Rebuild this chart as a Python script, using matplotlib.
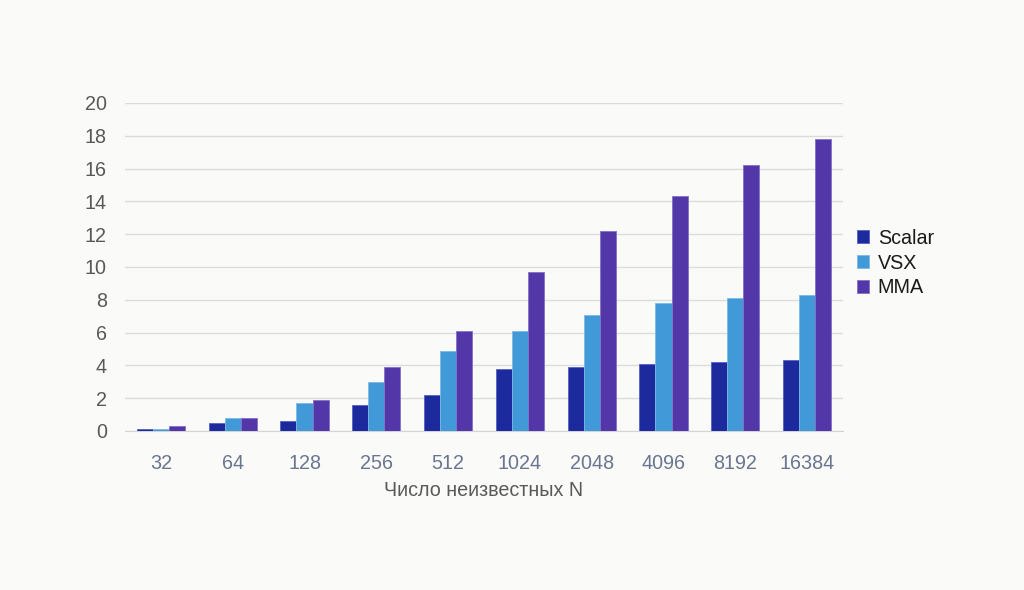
import matplotlib
matplotlib.use("Agg")
import matplotlib.pyplot as plt
import numpy as np

categories = ["32", "64", "128", "256", "512", "1024", "2048", "4096", "8192", "16384"]
scalar = [0.1, 0.5, 0.6, 1.6, 2.2, 3.8, 3.9, 4.1, 4.2, 4.3]
vsx = [0.15, 0.8, 1.7, 3.0, 4.9, 6.1, 7.1, 7.8, 8.1, 8.3]
mma = [0.3, 0.8, 1.9, 3.9, 6.1, 9.7, 12.2, 14.3, 16.2, 17.8]
series_names = ["Scalar", "VSX", "MMA"]
colors = ["#1C2A9E", "#4199D8", "#5336A8"]
edges = ["#5560C0", "#7DB8E6", "#8470C8"]

plt.rcParams['font.family'] = ['Liberation Sans', 'DejaVu Sans']

bg = "#FAFAF9"
fig = plt.figure(figsize=(10.24, 5.9), dpi=100, facecolor=bg)
ax = fig.add_axes([125 / 1024, 1 - 431 / 590, 718 / 1024, 328 / 590], facecolor=bg)

x = np.arange(len(categories))
w = 0.223
for i, (vals, name) in enumerate(zip([scalar, vsx, mma], series_names)):
    ax.bar(x + (i - 1) * w, vals, width=w, color=colors[i], edgecolor=edges[i],
           linewidth=0.6, label=name, zorder=3)

ax.set_xlim(-0.5, len(categories) - 0.5)
ax.set_ylim(0, 20)
ax.set_yticks(range(0, 21, 2))
ax.yaxis.grid(True, color="#DCDCDC", linewidth=1.0, zorder=0)
ax.set_axisbelow(True)
for s in ["top", "right", "left"]:
    ax.spines[s].set_visible(False)
ax.spines["bottom"].set_color("#D4D4D4")
ax.tick_params(axis="both", length=0)
ax.tick_params(axis="y", labelsize=14.2, labelcolor="#595959", pad=13)
ax.set_xticks(x)
ax.set_xticklabels(categories)
ax.tick_params(axis="x", labelsize=14.2, labelcolor="#6A7590", pad=16.5)
ax.set_xlabel("Число неизвестных N", fontsize=14.2, color="#595959", labelpad=6)

leg = ax.legend(loc="center left", bbox_to_anchor=(0.995, 0.512), frameon=False,
                fontsize=14.2, handlelength=0.6, handleheight=0.6,
                handletextpad=0.45, labelspacing=0.3)
for t in leg.get_texts():
    t.set_color("#1A1A1A")

fig.savefig("out.png", dpi=100, facecolor=bg)
